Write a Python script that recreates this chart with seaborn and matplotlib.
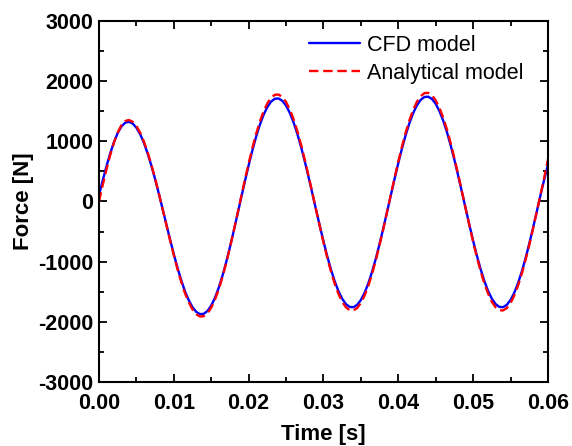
import numpy as np
import pandas as pd
import matplotlib
matplotlib.use("Agg")
import matplotlib.pyplot as plt
import seaborn as sns

# sample times [s], one every 0.5 ms
time_s = np.round(np.arange(121) * 0.0005, 4)

# CFD model force [N]
cfd_force = [
    105, 349, 583, 798, 985, 1136, 1246, 1309,
    1324, 1296, 1227, 1119, 976, 800, 597, 373, 131, -121,
    -377, -631, -875, -1104, -1311, -1494, -1642, -1757, -1835, -1872,
    -1867, -1820, -1730, -1601, -1435, -1236, -1009, -760, -495, -219,
    59, 335, 600, 849, 1076, 1275, 1441, 1570, 1660, 1707,
    1712, 1673, 1593, 1473, 1316, 1127, 909, 668, 410, 141,
    -131, -401, -662, -907, -1130, -1326, -1489, -1617, -1705, -1752,
    -1757, -1718, -1637, -1516, -1358, -1166, -947, -703, -443, -172,
    103, 375, 638, 885, 1110, 1307, 1472, 1601, 1690, 1737,
    1742, 1703, 1622, 1501, 1343, 1152, 932, 689, 429, 158,
    -117, -390, -653, -900, -1125, -1322, -1487, -1616, -1705, -1752,
    -1756, -1718, -1637, -1516, -1357, -1166, -945, -702, -441, -170,
    105, 365, 610,
]

# analytical model force [N]
analytical_force = [
    0, 271, 531, 770, 977, 1145, 1267, 1337,
    1354, 1325, 1254, 1145, 998, 819, 612, 382, 135, -123,
    -385, -644, -893, -1128, -1339, -1525, -1677, -1795, -1874, -1912,
    -1907, -1858, -1765, -1632, -1461, -1257, -1024, -767, -494, -211,
    77, 360, 633, 890, 1123, 1327, 1498, 1631, 1724, 1773,
    1777, 1737, 1654, 1530, 1368, 1172, 946, 697, 430, 152,
    -130, -409, -679, -932, -1163, -1365, -1535, -1667, -1758, -1807,
    -1811, -1771, -1687, -1562, -1399, -1201, -974, -722, -454, -173,
    111, 392, 664, 919, 1152, 1356, 1526, 1660, 1752, 1801,
    1805, 1765, 1681, 1556, 1393, 1195, 968, 716, 448, 167,
    -117, -398, -670, -925, -1158, -1362, -1532, -1666, -1758, -1807,
    -1811, -1771, -1687, -1562, -1399, -1201, -973, -722, -453, -173,
    112, 400, 700,
]

x_ticks = [0.00, 0.01, 0.02, 0.03, 0.04, 0.05, 0.06]
y_ticks = [-3000, -2000, -1000, 0, 1000, 2000, 3000]

sns.set_style("ticks")
plt.rcParams['font.family'] = ['Liberation Sans', 'DejaVu Sans']
plt.rcParams['axes.unicode_minus'] = False
plt.rcParams['text.color'] = 'black'
plt.rcParams['axes.labelcolor'] = 'black'
plt.rcParams['xtick.color'] = 'black'
plt.rcParams['ytick.color'] = 'black'

fig = plt.figure(figsize=(5.72, 4.46), dpi=100)
ax = fig.add_axes([0.173, 0.1435, 0.785, 0.8095])

sns.lineplot(x=time_s, y=cfd_force, ax=ax, color='#0000ff', lw=1.7,
             label='CFD model')
sns.lineplot(x=time_s, y=analytical_force, ax=ax, color='#ff0000', lw=1.7,
             label='Analytical model')
ax.lines[-1].set_dashes([4, 2])

ax.set_xlim(0, 0.06)
ax.set_ylim(-3000, 3000)
ax.set_xticks(x_ticks)
ax.set_yticks(y_ticks)
ax.set_xticklabels([f"{v:.2f}" for v in x_ticks])
ax.set_yticklabels([str(v) for v in y_ticks])
ax.set_xticks(np.arange(0.005, 0.06, 0.01), minor=True)
ax.set_yticks(np.arange(-2500, 3000, 1000), minor=True)

ax.tick_params(which='both', direction='in', top=True, right=True, width=1.3,
               colors='black')
ax.tick_params(which='major', length=6, labelsize=15.5)
ax.tick_params(axis='y', which='major', pad=4)
ax.tick_params(axis='x', which='major', pad=8)
ax.tick_params(which='minor', length=3.5)
for lab in ax.get_xticklabels() + ax.get_yticklabels():
    lab.set_fontweight('bold')
for sp in ax.spines.values():
    sp.set_linewidth(1.5)
    sp.set_color('black')

ax.set_xlabel('Time [s]', fontsize=16, fontweight='bold', labelpad=7)
ax.set_ylabel('Force [N]', fontsize=16, fontweight='bold', labelpad=3)

ax.legend(loc='upper left', bbox_to_anchor=(0.448, 0.985), frameon=False,
          fontsize=15.5, handlelength=2.4, handletextpad=0.3,
          labelspacing=0.32, borderaxespad=0, labelcolor='black')

fig.savefig('out.png', dpi=100)
